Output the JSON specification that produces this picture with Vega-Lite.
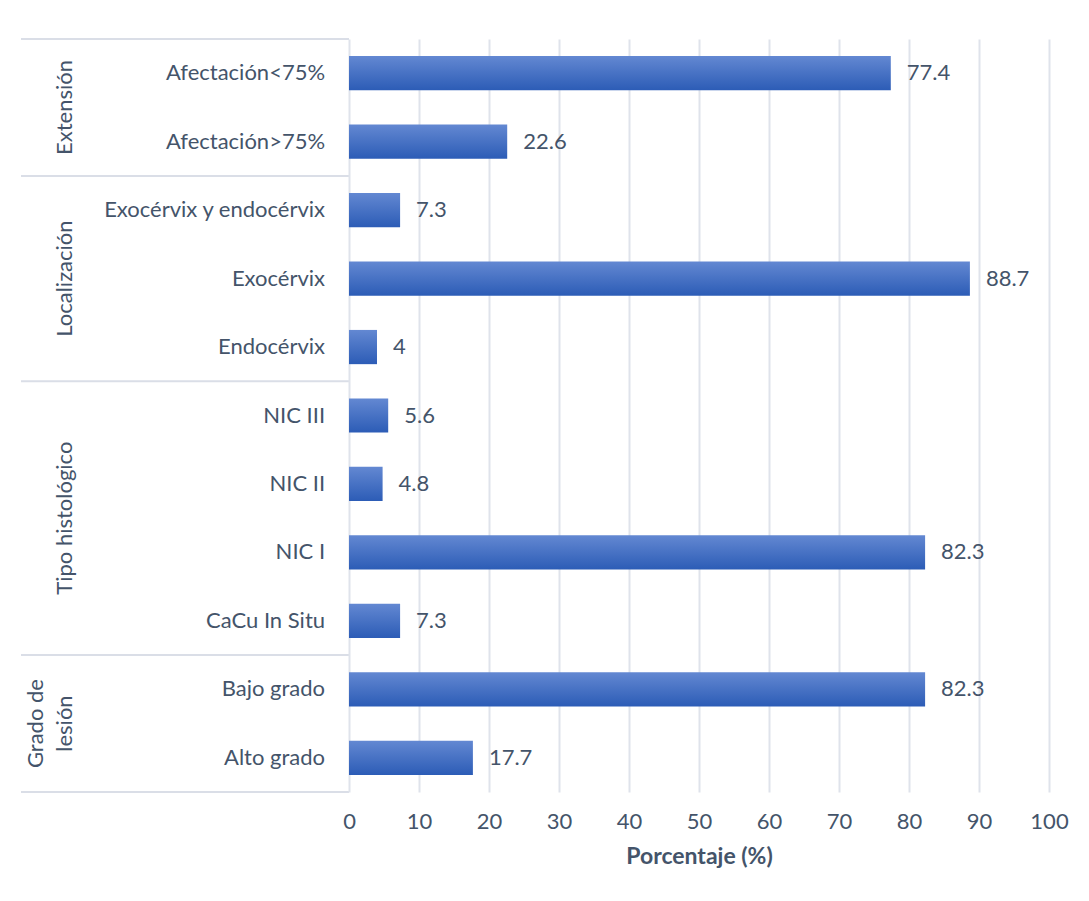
{
  "$schema": "https://vega.github.io/schema/vega-lite/v6.json",
  "padding": {"left": 20, "top": 38, "right": 0, "bottom": 0},
  "background": "white",
  "spacing": 0,
  "bounds": "flush",
  "datasets": {
    "rows": [
      {"group": "Extensión", "item": "Afectación<75%", "value": 77.4, "order": 1},
      {"group": "Extensión", "item": "Afectación>75%", "value": 22.6, "order": 2},
      {"group": "Localización", "item": "Exocérvix y endocérvix", "value": 7.3, "order": 3},
      {"group": "Localización", "item": "Exocérvix", "value": 88.7, "order": 4},
      {"group": "Localización", "item": "Endocérvix", "value": 4, "order": 5},
      {"group": "Tipo histológico", "item": "NIC III", "value": 5.6, "order": 6},
      {"group": "Tipo histológico", "item": "NIC II", "value": 4.8, "order": 7},
      {"group": "Tipo histológico", "item": "NIC I", "value": 82.3, "order": 8},
      {"group": "Tipo histológico", "item": "CaCu In Situ", "value": 7.3, "order": 9},
      {"group": "Grado de\nlesión", "item": "Bajo grado", "value": 82.3, "order": 10},
      {"group": "Grado de\nlesión", "item": "Alto grado", "value": 17.7, "order": 11}
    ]
  },
  "hconcat": [
    {
      "width": 328,
      "height": 753,
      "data": {"name": "rows"},
      "resolve": {"scale": {"y": "independent"}},
      "layer": [
        {
          "transform": [
            {"joinaggregate": [{"op": "min", "field": "order", "as": "firstOrder"}], "groupby": ["group"]},
            {"filter": "datum.order == datum.firstOrder"}
          ],
          "mark": {"type": "rule", "color": "#dadee7", "strokeWidth": 2},
          "encoding": {
            "y": {"field": "item", "type": "nominal", "bandPosition": 0, "axis": null,
              "scale": {"domain": ["Afectación<75%", "Afectación>75%", "Exocérvix y endocérvix", "Exocérvix", "Endocérvix", "NIC III", "NIC II", "NIC I", "CaCu In Situ", "Bajo grado", "Alto grado"], "paddingInner": 0, "paddingOuter": 0}}
          }
        },
        {
          "transform": [
            {"joinaggregate": [{"op": "max", "field": "order", "as": "lastOrder"}]},
            {"filter": "datum.order == datum.lastOrder"}
          ],
          "mark": {"type": "rule", "color": "#dadee7", "strokeWidth": 2},
          "encoding": {
            "y": {"field": "item", "type": "nominal", "bandPosition": 1, "axis": null,
              "scale": {"domain": ["Afectación<75%", "Afectación>75%", "Exocérvix y endocérvix", "Exocérvix", "Endocérvix", "NIC III", "NIC II", "NIC I", "CaCu In Situ", "Bajo grado", "Alto grado"], "paddingInner": 0, "paddingOuter": 0}}
          }
        },
        {
          "mark": {"type": "text", "align": "right", "baseline": "middle", "fontSize": 22, "color": "#44546a"},
          "encoding": {
            "x": {"datum": 0.927, "type": "quantitative", "scale": {"domain": [0, 1], "nice": false, "zero": false}, "axis": null},
            "y": {"field": "item", "type": "nominal", "axis": null,
              "scale": {"domain": ["Afectación<75%", "Afectación>75%", "Exocérvix y endocérvix", "Exocérvix", "Endocérvix", "NIC III", "NIC II", "NIC I", "CaCu In Situ", "Bajo grado", "Alto grado"], "paddingInner": 0, "paddingOuter": 0}},
            "text": {"field": "item", "type": "nominal"}
          }
        },
        {
          "transform": [{"filter": "indexof(datum.group, '\\n') < 0"}],
          "mark": {"type": "text", "align": "center", "baseline": "bottom", "angle": 270, "fontSize": 22, "color": "#44546a"},
          "encoding": {
            "x": {"datum": 0.17, "type": "quantitative", "scale": {"domain": [0, 1], "nice": false, "zero": false}, "axis": null},
            "y": {"aggregate": "mean", "field": "order", "type": "quantitative", "axis": null,
              "scale": {"domain": [0.5, 11.5], "reverse": true, "nice": false, "zero": false}},
            "text": {"field": "group", "type": "nominal"}
          }
        },
        {
          "transform": [{"filter": "indexof(datum.group, '\\n') >= 0"}],
          "mark": {"type": "text", "align": "center", "baseline": "bottom", "angle": 270, "fontSize": 22, "color": "#44546a", "lineBreak": "\n", "lineHeight": 29, "dy": -29},
          "encoding": {
            "x": {"datum": 0.17, "type": "quantitative", "scale": {"domain": [0, 1], "nice": false, "zero": false}, "axis": null},
            "y": {"aggregate": "mean", "field": "order", "type": "quantitative", "axis": null,
              "scale": {"domain": [0.5, 11.5], "reverse": true, "nice": false, "zero": false}},
            "text": {"field": "group", "type": "nominal"}
          }
        }
      ]
    },
    {
      "width": 700,
      "height": 753,
      "data": {"name": "rows"},
      "encoding": {
        "y": {"field": "item", "type": "nominal", "axis": null,
          "scale": {"domain": ["Afectación<75%", "Afectación>75%", "Exocérvix y endocérvix", "Exocérvix", "Endocérvix", "NIC III", "NIC II", "NIC I", "CaCu In Situ", "Bajo grado", "Alto grado"], "paddingInner": 0.5, "paddingOuter": 0.25}},
        "x": {"field": "value", "type": "quantitative",
          "scale": {"domain": [0, 100], "nice": false},
          "axis": {"values": [0, 10, 20, 30, 40, 50, 60, 70, 80, 90, 100], "grid": true, "gridColor": "#dfe3eb", "gridWidth": 2,
            "domain": false, "ticks": false, "labelFlush": false, "labelFontSize": 22, "labelColor": "#44546a", "labelPadding": 19,
            "title": "Porcentaje (%)", "titleFontSize": 23, "titleFontWeight": "bold", "titleColor": "#44546a", "titlePadding": 13}}
      },
      "layer": [
        {
          "mark": {"type": "bar", "color": {"gradient": "linear", "x1": 0, "y1": 0, "x2": 0, "y2": 1,
            "stops": [{"offset": 0, "color": "#6388d2"}, {"offset": 1, "color": "#2c5cb6"}]}}
        },
        {
          "mark": {"type": "text", "align": "left", "baseline": "middle", "dx": 16, "fontSize": 22, "color": "#44546a"},
          "encoding": {"text": {"field": "value", "type": "quantitative"}}
        }
      ]
    }
  ],
  "config": {
    "font": "Lato",
    "view": {"stroke": null}
  }
}
